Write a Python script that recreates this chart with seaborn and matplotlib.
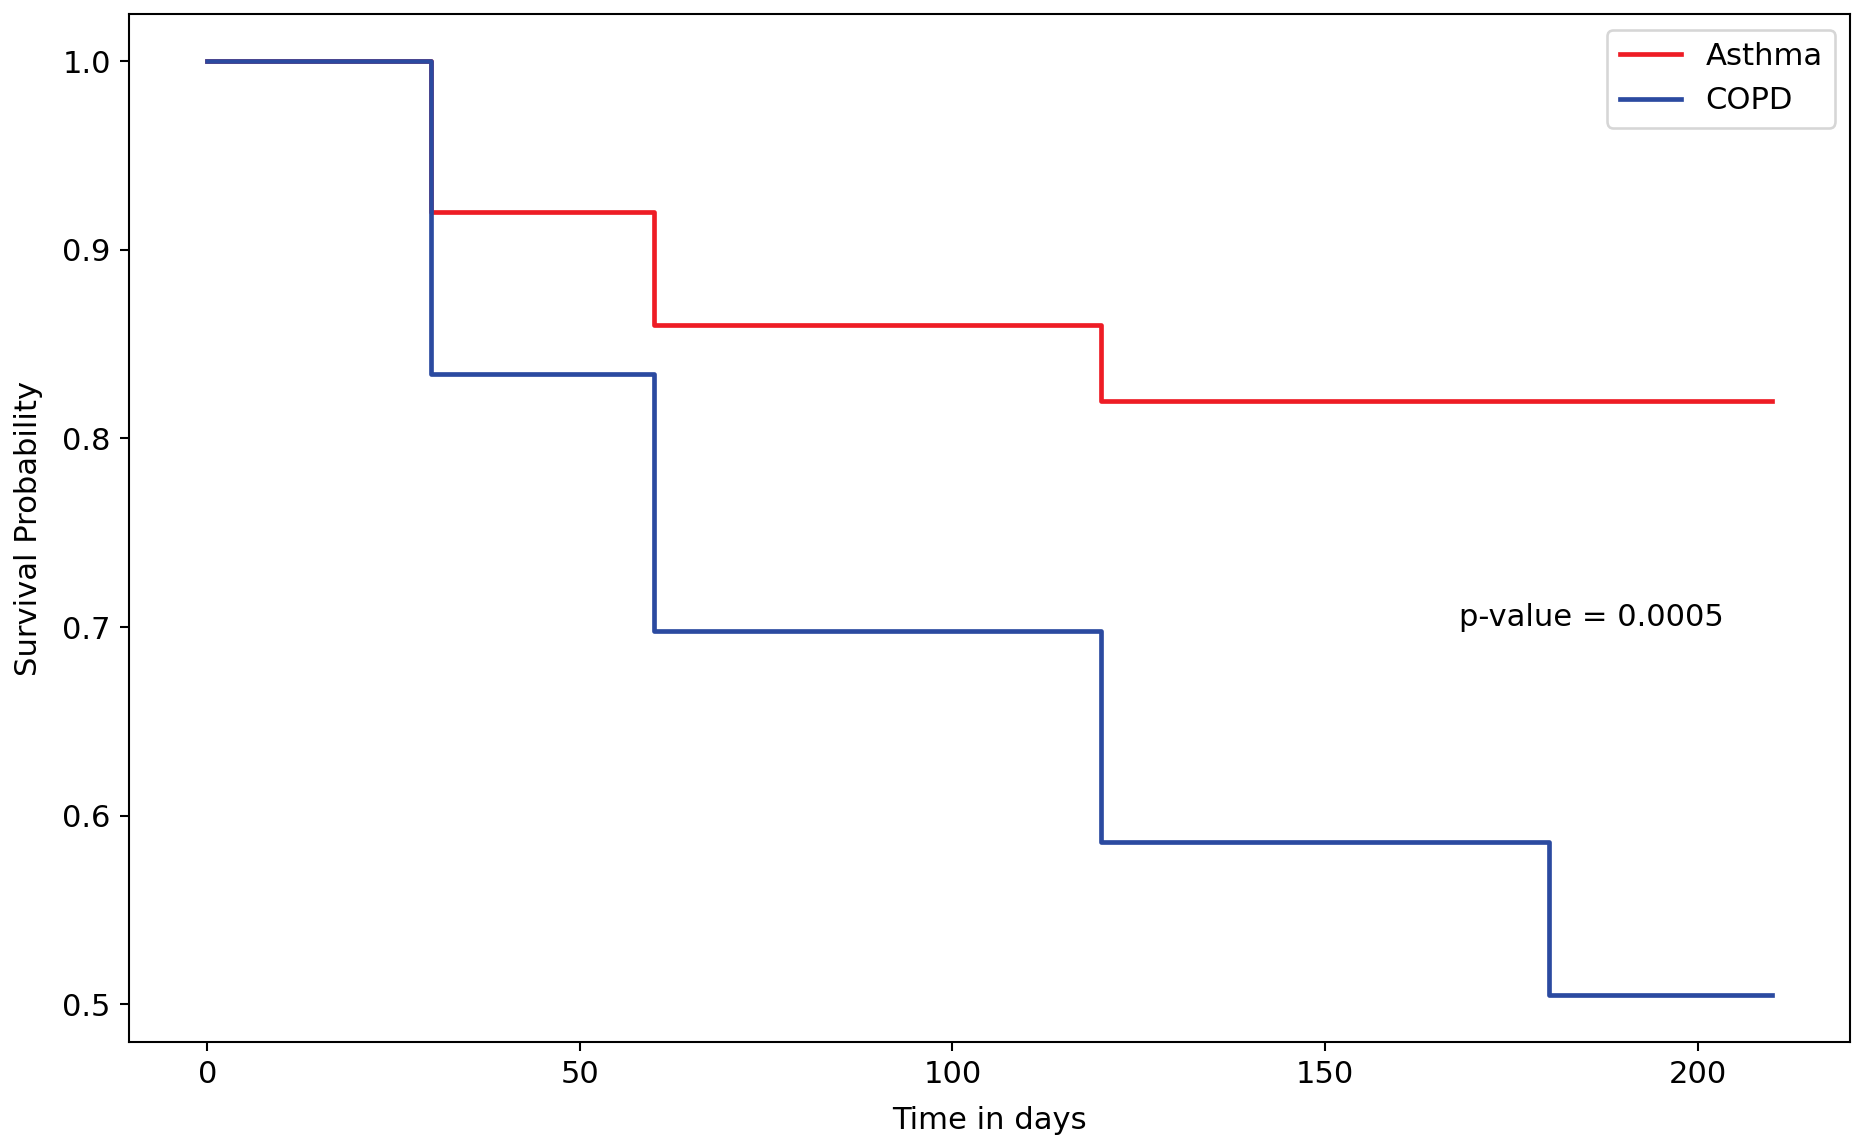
import matplotlib
matplotlib.use("Agg")
import matplotlib.pyplot as plt
import seaborn as sns
import pandas as pd

groups = ["Asthma", "COPD"]
asthma_time = [0, 30, 60, 120, 210]
asthma_surv = [1.0, 0.92, 0.86, 0.82, 0.82]
copd_time = [0, 30, 60, 120, 180, 210]
copd_surv = [1.0, 0.834, 0.698, 0.586, 0.505, 0.505]
colors = {"Asthma": "#ee1c25", "COPD": "#2b4aa0"}
p_text = "p-value = 0.0005"

df = pd.concat([
    pd.DataFrame({"time": asthma_time, "surv": asthma_surv, "group": "Asthma"}),
    pd.DataFrame({"time": copd_time, "surv": copd_surv, "group": "COPD"}),
], ignore_index=True)

plt.rcParams["font.size"] = 11.8

dpi = 187.3
fig = plt.figure(figsize=(1873 / dpi, 1148 / dpi), dpi=dpi)
ax = fig.add_axes([0.0689, 0.0926, 0.9879 - 0.0689, 0.9875 - 0.0926])

sns.lineplot(data=df, x="time", y="surv", hue="group", hue_order=groups,
             palette=colors, drawstyle="steps-post", estimator=None,
             linewidth=1.8, ax=ax)

ax.set_xlabel("Time in days", labelpad=6.5)
ax.set_ylabel("Survival Probability", labelpad=7.5)
ax.legend(loc="upper right")
ax.text(168, 0.705, p_text, va="center", ha="left")

fig.savefig("out.png", dpi=dpi)
